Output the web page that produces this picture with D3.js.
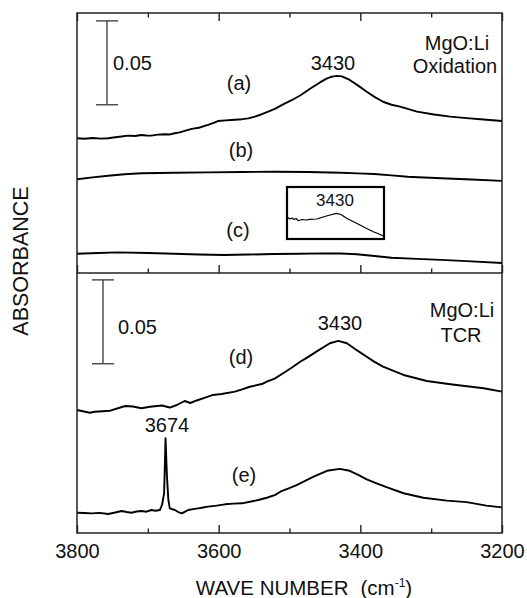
<!DOCTYPE html>
<html><head><meta charset="utf-8">
<script src="https://cdn.jsdelivr.net/npm/d3@7"></script>
<style>
body{margin:0;background:#fff}
text{font-family:"Liberation Sans",Arial,Helvetica,sans-serif;fill:#111}
</style>
</head><body>
<svg id="chart" width="527" height="598"></svg>
<script>
// ---------------- DATA ----------------
const majorTicks = [3800, 3600, 3400, 3200];
const minorTicks = [3700, 3500, 3300];
const tickLabels = ["3800", "3600", "3400", "3200"];
const scaleBarValue = 0.05;

// Spectrum (a) – oxidation
const waveA = [3800,3790,3778,3766,3756,3746,3737,3728,3718,3709,3702,3695,3686,3676,3669,3662,3655,3648,3638,3628,3615,3608,3601,3590,3582,3567,3558,3549,3540,3530,3520,3509,3497,3485,3471,3457,3447,3440,3433,3426,3415,3403,3391,3380,3368,3356,3344,3320,3296,3273,3250,3226,3200];
const absA  = [0.0803,0.0800,0.0805,0.0801,0.0803,0.0809,0.0814,0.0819,0.0817,0.0823,0.0820,0.0819,0.0825,0.0827,0.0826,0.0833,0.0838,0.0847,0.0859,0.0866,0.0883,0.0893,0.0906,0.0910,0.0912,0.0917,0.0922,0.0932,0.0945,0.0962,0.0980,0.1005,0.1030,0.1058,0.1098,0.1136,0.1160,0.1171,0.1175,0.1172,0.1151,0.1117,0.1081,0.1050,0.1021,0.1003,0.0992,0.0962,0.0945,0.0932,0.0923,0.0915,0.0906];

// Spectrum (b)
const waveB = [3800,3778,3756,3733,3709,3662,3615,3568,3521,3474,3427,3404,3380,3356,3333,3310,3286,3243,3200];
const absB  = [0.0559,0.0570,0.0580,0.0589,0.0595,0.0598,0.0600,0.0602,0.0604,0.0602,0.0598,0.0594,0.0590,0.0582,0.0574,0.0569,0.0565,0.0557,0.0549];

// Spectrum (c)
const waveC = [3800,3770,3743,3700,3663,3628,3593,3558,3522,3487,3452,3428,3405,3380,3356,3320,3286,3243,3200];
const absC  = [0.0115,0.0119,0.0123,0.0119,0.0115,0.0110,0.0107,0.0110,0.0113,0.0115,0.0117,0.0116,0.0112,0.0101,0.0091,0.0084,0.0078,0.0069,0.0060];

// Inset: magnified spectrum (c)
const waveInset = [3677,3665,3655,3645,3635,3624,3606,3586,3566,3533,3502,3467,3434,3413,3385,3353,3319,3286,3253,3230,3203];
const absInset  = [0.00217,0.00200,0.00210,0.00195,0.00205,0.00183,0.00195,0.00190,0.00197,0.00200,0.00220,0.00240,0.00257,0.00245,0.00207,0.00175,0.00140,0.00105,0.00073,0.00055,0.00030];

// Spectrum (d) – TCR
const waveD = [3800,3782,3775,3753,3732,3721,3709,3697,3680,3669,3659,3648,3640,3631,3619,3608,3596,3577,3567,3556,3539,3532,3521,3509,3497,3485,3478,3462,3443,3431,3419,3405,3391,3380,3368,3339,3306,3273,3226,3200];
const absD  = [0.0733,0.0717,0.0723,0.0729,0.0757,0.0754,0.0744,0.0753,0.0760,0.0748,0.0763,0.0787,0.0775,0.0790,0.0807,0.0823,0.0829,0.0843,0.0856,0.0872,0.0888,0.0902,0.0920,0.0952,0.0985,0.1021,0.1038,0.1081,0.1131,0.1145,0.1131,0.1090,0.1051,0.1020,0.0992,0.0942,0.0906,0.0887,0.0863,0.0843];

// Spectrum (e) – TCR, with 3674 line
const waveE = [3800,3790,3779,3768,3756,3746,3737,3730,3723,3716,3709,3702,3695,3689,3683,3680,3677,3675,3673,3671,3669,3662,3657,3652,3648,3643,3636,3629,3622,3615,3603,3591,3579,3567,3556,3544,3532,3520,3513,3502,3490,3478,3466,3447,3429,3415,3403,3391,3377,3363,3339,3311,3278,3250,3222,3200];
const absE  = [0.0121,0.0119,0.0117,0.0120,0.0113,0.0122,0.0131,0.0125,0.0121,0.0128,0.0131,0.0127,0.0137,0.0133,0.0137,0.0167,0.0237,0.0565,0.0336,0.0197,0.0147,0.0137,0.0125,0.0117,0.0126,0.0137,0.0142,0.0147,0.0152,0.0157,0.0163,0.0171,0.0175,0.0177,0.0186,0.0197,0.0210,0.0227,0.0246,0.0265,0.0286,0.0311,0.0336,0.0371,0.0382,0.0371,0.0347,0.0320,0.0296,0.0273,0.0237,0.0210,0.0193,0.0184,0.0163,0.0153];

// ---------------- LAYOUT ----------------
const svg = d3.select("#chart");
const L = 77, R = 502, T = 13, M = 273, B = 533;
const x = d3.scaleLinear().domain([3800, 3200]).range([L, R]);
const yTop = d3.scaleLinear().domain([0, 0.155]).range([M, T]);
const yBot = d3.scaleLinear().domain([0, 0.155]).range([B, M]);

const lineGen = (ys, xs) => d3.line().x(d => xs(d[0])).y(d => ys(d[1]));
const zip = (a, b) => a.map((v, i) => [v, b[i]]);

function drawCurve(waves, vals, ys, xs, w) {
  svg.append("path").datum(zip(waves, vals))
    .attr("d", lineGen(ys, xs || x))
    .attr("fill", "none").attr("stroke", "#000")
    .attr("stroke-width", w || 1.9).attr("stroke-linejoin", "round");
}

drawCurve(waveA, absA, yTop);
drawCurve(waveB, absB, yTop);
drawCurve(waveC, absC, yTop);
drawCurve(waveD, absD, yBot);
drawCurve(waveE, absE, yBot);

// Inset
const ix = d3.scaleLinear().domain([3680, 3200]).range([287, 384]);
const iy = d3.scaleLinear().domain([0, 0.0052]).range([239, 187]);
drawCurve(waveInset, absInset, iy, ix, 1.2);
svg.append("rect").attr("x", 287).attr("y", 187).attr("width", 97).attr("height", 52)
  .attr("fill", "none").attr("stroke", "#000").attr("stroke-width", 2.2);
svg.append("text").attr("x", 335).attr("y", 206).attr("text-anchor", "middle")
  .style("font-size", "17px").text("3430");

// Axes (ticks pointing inward)
function tickAxis(axisFn, yPos, vals, size, labels) {
  const ax = axisFn(x).tickValues(vals).tickSize(size).tickSizeOuter(0)
    .tickPadding(11)
    .tickFormat(labels ? (d, i) => labels[i] : "");
  const g = svg.append("g").attr("transform", `translate(0,${yPos})`).call(ax);
  g.select(".domain").remove();
  g.selectAll(".tick line").attr("stroke", "#222").attr("stroke-width", 1.4);
  g.selectAll(".tick text").style("font-size", "20px")
    .style("font-family", '"Liberation Sans",Arial,sans-serif').attr("fill", "#111");
  return g;
}
tickAxis(d3.axisTop, T, majorTicks, -8);
tickAxis(d3.axisTop, T, minorTicks, -4.5);
tickAxis(d3.axisBottom, M, majorTicks, -8);
tickAxis(d3.axisBottom, M, minorTicks, -4.5);
tickAxis(d3.axisBottom, B, majorTicks, -8, tickLabels);
tickAxis(d3.axisBottom, B, minorTicks, -4.5);

// Frame
svg.append("rect").attr("x", L).attr("y", T).attr("width", R - L).attr("height", B - T)
  .attr("fill", "none").attr("stroke", "#222").attr("stroke-width", 1.5);
svg.append("line").attr("x1", L).attr("x2", R).attr("y1", M).attr("y2", M)
  .attr("stroke", "#222").attr("stroke-width", 1.5);

// Scale bars
function scaleBar(ys, xPix, topVal) {
  const y1 = ys(topVal), y2 = ys(topVal - scaleBarValue);
  const g = svg.append("g").attr("stroke", "#444").attr("stroke-width", 1.4);
  g.append("line").attr("x1", xPix).attr("x2", xPix).attr("y1", y1).attr("y2", y2);
  g.append("line").attr("x1", xPix - 11).attr("x2", xPix + 11).attr("y1", y1).attr("y2", y1);
  g.append("line").attr("x1", xPix - 11).attr("x2", xPix + 11).attr("y1", y2).attr("y2", y2);
}
scaleBar(yTop, 107, 0.1503);
scaleBar(yBot, 103, 0.1509);

// Labels
function label(txt, xx, yy, size, anchor) {
  svg.append("text").attr("x", xx).attr("y", yy)
    .attr("text-anchor", anchor || "middle").style("font-size", (size || 20) + "px").text(txt);
}
label("0.05", 113, 70, 20, "start");
label("3430", 333, 70);
label("MgO:Li", 457, 50);
label("Oxidation", 455, 73);
label("(a)", 239, 90);
label("(b)", 241, 157);
label("(c)", 238, 237);
label("0.05", 118, 334, 20, "start");
label("3430", 340, 330);
label("MgO:Li", 462, 317);
label("TCR", 461, 342);
label("(d)", 241, 364);
label("3674", 167, 432);
label("(e)", 244, 482);

// Axis titles
const xt = svg.append("text").attr("x", 304).attr("y", 595).attr("text-anchor", "middle")
  .style("font-size", "20.5px");
xt.append("tspan").text("WAVE NUMBER");
xt.append("tspan").attr("dx", 12).text("(cm");
xt.append("tspan").attr("dy", -8).style("font-size", "12px").text("-1");
xt.append("tspan").attr("dy", 8).text(")");

svg.append("text").attr("transform", "translate(28,261) rotate(-90)")
  .attr("text-anchor", "middle").style("font-size", "21.5px").text("ABSORBANCE");
</script>
</body></html>
